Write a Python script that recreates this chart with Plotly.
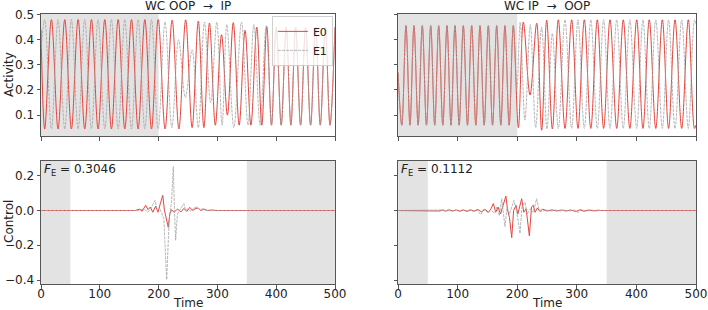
import plotly.graph_objects as go

# --- activity traces: extremum times / values ---
left_e0_t = [0, 6.35, 17.7, 29, 40.4, 51.7, 63.1, 74.4, 85.8, 97.1, 108.5, 119.8, 131.2, 142.5,
             153.9, 165.2, 176.6, 187.9, 199.3, 211, 223, 234.5, 246, 257, 267.5, 277, 286.5,
             296.5, 307, 317, 327, 337, 347, 357, 367, 375.5, 384, 392, 400, 408.5, 417, 425,
             433, 441.5, 450, 458.5, 467, 475, 483.5, 491.5, 500]
left_e0_v = [0.44, 0.045, 0.48, 0.045, 0.48, 0.045, 0.48, 0.045, 0.48, 0.045, 0.48, 0.045, 0.48,
             0.045, 0.48, 0.045, 0.48, 0.045, 0.48, 0.045, 0.478, 0.045, 0.479, 0.05, 0.474, 0.05,
             0.466, 0.06, 0.42, 0.10, 0.468, 0.06, 0.437, 0.06, 0.45, 0.06, 0.452, 0.06, 0.45,
             0.06, 0.45, 0.06, 0.45, 0.06, 0.45, 0.06, 0.45, 0.06, 0.45, 0.06, 0.45]

left_e1_t = [0, 6.3, 17.7, 29, 40.4, 51.7, 63.1, 74.4, 85.8, 97.1, 108.5, 119.8, 131.2, 142.5,
             153.9, 165.2, 176.6, 187.9, 199.3, 211, 222.5, 234, 245.5, 257, 267.5, 278, 288.5,
             299, 308, 316, 328, 341, 352, 362, 372.5, 383, 392, 400, 408.5, 417, 425, 433,
             441.5, 450, 458.5, 467, 475, 483.5, 491.5, 500]
left_e1_v = [0.36, 0.48, 0.045, 0.48, 0.045, 0.48, 0.045, 0.48, 0.045, 0.48, 0.045, 0.48, 0.045,
             0.48, 0.045, 0.48, 0.045, 0.48, 0.045, 0.47, 0.05, 0.40, 0.17, 0.36, 0.05, 0.47,
             0.15, 0.47, 0.06, 0.46, 0.05, 0.47, 0.06, 0.46, 0.06, 0.455, 0.06, 0.45, 0.06, 0.45,
             0.06, 0.45, 0.06, 0.45, 0.06, 0.45, 0.06, 0.45, 0.06, 0.45]

right_ip_t = [0, 6.4, 13.4, 20.1, 26.8, 33.8, 40.8, 47.8, 54.9, 61.6, 68.3, 75.2, 82.2, 88.9,
              95.6, 102.6, 109.6, 116.6, 123.6, 130.6, 137.6, 144.6, 151.6, 158.6, 165.6, 172.5,
              179.5, 186.5, 193.5]
right_ip_v = [0.27, 0.06, 0.456, 0.06, 0.456, 0.06, 0.456, 0.06, 0.456, 0.06, 0.456, 0.06, 0.456,
              0.06, 0.456, 0.06, 0.456, 0.06, 0.456, 0.06, 0.456, 0.06, 0.456, 0.06, 0.456, 0.06,
              0.456, 0.06, 0.456]

right_e0_tail_t = [202, 210.3, 221.5, 232.7, 241, 249.5, 259, 269, 280.2, 291.4, 302, 312.6, 323.5,
                   334.4, 345, 355.7, 367, 378, 389, 400.5, 411, 421.6, 432.5, 443.5, 454, 464.8,
                   476, 487.1, 497.5, 500]
right_e0_tail_v = [0.05, 0.47, 0.18, 0.465, 0.04, 0.478, 0.045, 0.479, 0.047, 0.479, 0.047, 0.479,
                   0.047, 0.479, 0.047, 0.479, 0.047, 0.479, 0.047, 0.479, 0.047, 0.479, 0.047,
                   0.479, 0.047, 0.479, 0.047, 0.479, 0.047, 0.06]

right_e1_tail_t = [199.5, 205, 213, 222, 231, 241, 250, 259, 269, 280.2, 291.4, 302, 312.6, 323.5,
                   334.4, 345, 355.7, 367, 378, 389, 400.5, 411, 421.6, 432.5, 443.5, 454, 464.8,
                   476, 487.1, 497.5, 500]
right_e1_tail_v = [0.2, 0.47, 0.08, 0.46, 0.05, 0.45, 0.045, 0.425, 0.047, 0.479, 0.047, 0.479,
                   0.047, 0.479, 0.047, 0.479, 0.047, 0.479, 0.047, 0.479, 0.047, 0.479, 0.047,
                   0.479, 0.047, 0.479, 0.047, 0.479, 0.047, 0.479, 0.46]

# --- control signals ---
ctrl_left_e0_t = [0, 160, 168, 172, 178, 182, 186, 190, 195, 199, 203, 207, 210, 213, 216.5, 219,
                  222, 226, 232, 238, 243, 248, 253, 258, 262, 267, 272, 277, 283, 290, 300, 500]
ctrl_left_e0_v = [0, 0, 0.008, -0.004, 0.03, 0.005, 0.02, -0.01, 0.025, -0.01, 0.04, 0.087, 0.0,
                  -0.05, -0.097, -0.02, 0.005, -0.01, 0.008, -0.008, 0.012, -0.005, 0.018, 0.0,
                  0.01, 0.015, 0.0, 0.008, 0.0, 0.003, 0, 0]

ctrl_left_e1_t = [0, 165, 175, 182, 188, 194, 198, 202, 206, 209, 213.7, 218, 222, 225, 227, 229,
                  232, 236, 240, 243, 246, 250, 255, 260, 265, 270, 275, 282, 290, 500]
ctrl_left_e1_v = [0, 0, 0.01, -0.01, 0.02, 0.058, 0.0, 0.01, -0.02, -0.05, -0.398, -0.05, 0.05,
                  0.253, 0.0, -0.171, -0.02, 0.0, 0.02, 0.04, 0.0, 0.01, -0.005, 0.015, 0.02,
                  0.005, 0.01, 0.0, 0.0, 0]

ctrl_right_e0_t = [0, 65, 70, 75, 80, 86, 92, 98, 104, 110, 116, 122, 128, 134, 140, 146, 152, 156,
                   160, 164, 168, 172, 176, 181, 184, 187, 190.8, 194, 198, 201, 204, 207.5, 211,
                   215, 220.4, 224, 227, 230, 234, 238, 243, 250, 258, 266, 274, 282, 290, 298,
                   305, 312, 320, 328, 336, 340, 500]
ctrl_right_e0_v = [0, 0, -0.003, 0.004, -0.004, 0.004, -0.003, 0.003, -0.004, 0.003, -0.005, 0.004,
                   -0.004, 0.006, -0.008, 0.006, -0.01, 0.01, 0.04, -0.01, 0.02, -0.02, 0.03,
                   0.083, 0.0, -0.04, -0.156, 0.0, 0.03, -0.02, 0.02, 0.068, -0.01, 0.01, -0.146,
                   0.02, 0.03, -0.01, 0.015, -0.005, 0.008, -0.003, 0.004, -0.003, 0.003, -0.003,
                   0.003, -0.006, 0.004, -0.004, 0.003, -0.002, 0.002, 0, 0]

ctrl_right_e1_t = [0, 65, 72, 78, 84, 90, 96, 102, 108, 114, 120, 126, 132, 139, 144, 150, 155,
                   162, 166, 170, 174, 179.5, 183, 187, 191, 194.6, 199, 204.7, 208, 213, 217, 222,
                   227, 232.7, 237, 242, 248, 256, 264, 272, 280, 288, 296, 302, 308, 316, 324,
                   332, 340, 500]
ctrl_right_e1_v = [0, 0, 0.003, -0.003, 0.003, -0.004, 0.003, -0.003, 0.004, -0.004, 0.004, -0.005,
                   0.005, -0.023, 0.008, -0.01, 0.005, -0.015, 0.02, -0.03, 0.068, -0.093, 0.02,
                   -0.02, 0.02, 0.058, 0.0, -0.132, 0.02, 0.048, -0.02, 0.01, -0.01, 0.068, 0.0,
                   -0.005, 0.004, -0.004, 0.003, -0.003, 0.003, -0.003, 0.004, -0.012, 0.006,
                   -0.004, 0.003, -0.002, 0, 0]

titles = ["WC OOP  →  IP", "WC IP  →  OOP"]
costs = ["0.3046", "0.1112"]

RED = "#e5443c"
GRAY = "#a3a3a3"
SHADE = "#e3e3e3"
FONT = "DejaVu Sans"
FS = 12

W, H = 708, 310
fig = go.Figure()

x_dom = [[41 / W, 335 / W], [398 / W, 696 / W]]
y_top = [1 - 136 / H, 1 - 14 / H]
y_bot = [1 - 284 / H, 1 - 161 / H]

# axes: 1 top-left, 2 top-right, 3 bottom-left, 4 bottom-right
panels = [
    ("x", "y", left_e0_t, left_e0_v, left_e1_t, left_e1_v, "spline"),
    ("x2", "y2", right_ip_t + right_e0_tail_t, right_ip_v + right_e0_tail_v,
     right_ip_t + right_e1_tail_t, right_ip_v + right_e1_tail_v, "spline"),
    ("x3", "y3", ctrl_left_e0_t, ctrl_left_e0_v, ctrl_left_e1_t, ctrl_left_e1_v, "linear"),
    ("x4", "y4", ctrl_right_e0_t, ctrl_right_e0_v, ctrl_right_e1_t, ctrl_right_e1_v, "linear"),
]

for i, (xa, ya, t0, v0, t1, v1, shape) in enumerate(panels):
    fig.add_trace(go.Scatter(x=t0, y=v0, mode="lines", xaxis=xa, yaxis=ya, name="E0",
                             line=dict(color=RED, width=1, shape=shape), showlegend=(i == 0)))
    fig.add_trace(go.Scatter(x=t1, y=v1, mode="lines", xaxis=xa, yaxis=ya, name="E1",
                             line=dict(color=GRAY, width=0.8, shape=shape, dash="3px,1px"),
                             showlegend=(i == 0)))

# shaded windows
shade_spans = [("x", "y", 0, 200), ("x2", "y2", 0, 200),
               ("x3", "y3", 0, 50), ("x3", "y3", 350, 500),
               ("x4", "y4", 0, 50), ("x4", "y4", 350, 500)]
for xa, ya, a, b in shade_spans:
    fig.add_shape(type="rect", xref=xa, yref=ya + " domain", x0=a, x1=b, y0=0, y1=1,
                  fillcolor=SHADE, line_width=0, layer="below")

axis_common = dict(showline=True, mirror=True, linecolor="#555", linewidth=1, ticks="outside",
                   ticklen=3.5, tickwidth=1, tickcolor="#555", showgrid=False, zeroline=False,
                   automargin=False, tickfont=dict(family=FONT, size=FS, color="#222"))
ticks_x = [0, 100, 200, 300, 400, 500]

fig.update_layout(
    width=W, height=H,
    margin=dict(l=0, r=0, t=0, b=0),
    paper_bgcolor="white", plot_bgcolor="white",
    font=dict(family=FONT, size=FS, color="#222"),
    xaxis=dict(domain=x_dom[0], anchor="y", range=[0, 500], tickvals=ticks_x,
               showticklabels=False, **axis_common),
    xaxis2=dict(domain=x_dom[1], anchor="y2", range=[0, 500], tickvals=ticks_x,
                showticklabels=False, **axis_common),
    xaxis3=dict(domain=x_dom[0], anchor="y3", range=[0, 500], tickvals=ticks_x,
                ticklabelstandoff=-5, **axis_common),
    xaxis4=dict(domain=x_dom[1], anchor="y4", range=[0, 500], tickvals=ticks_x,
                ticklabelstandoff=-5, **axis_common),
    yaxis=dict(domain=y_top, anchor="x", range=[0.017, 0.502],
               tickvals=[0.1, 0.2, 0.3, 0.4, 0.5], ticktext=["0.1", "0.2", "0.3", "0.4", "0.5"],
               **axis_common),
    yaxis2=dict(domain=y_top, anchor="x2", range=[0.017, 0.502],
                tickvals=[0.1, 0.2, 0.3, 0.4, 0.5], showticklabels=False, **axis_common),
    yaxis3=dict(domain=y_bot, anchor="x3", range=[-0.423, 0.285],
                tickvals=[-0.4, -0.2, 0.0, 0.2], ticktext=["−0.4", "−0.2", "0.0", "0.2"],
                **axis_common),
    yaxis4=dict(domain=y_bot, anchor="x4", range=[-0.423, 0.285],
                tickvals=[-0.4, -0.2, 0.0, 0.2], showticklabels=False, **axis_common),
    legend=dict(x=x_dom[0][1] - 0.003, y=y_top[1] - 0.006, xanchor="right", yanchor="top",
                bgcolor="rgba(255,255,255,0.8)", bordercolor="#d0d0d0", borderwidth=1,
                font=dict(family=FONT, size=11), tracegroupgap=0, itemwidth=30),
)

def note(text, x, y, xanchor="center", yanchor="middle", angle=0):
    fig.add_annotation(text=text, xref="paper", yref="paper", x=x, y=y, xanchor=xanchor,
                       yanchor=yanchor, textangle=angle, showarrow=False,
                       font=dict(family=FONT, size=FS, color="#222"))

for dom, title in zip(x_dom, titles):
    note(title, (dom[0] + dom[1]) / 2, 1 - 6 / H)
    note("Time", (dom[0] + dom[1]) / 2, 1 - 303 / H)

note("Activity", 9 / W, 1 - 75 / H, angle=-90)
note("Control", 9 / W, 1 - 222 / H, angle=-90)

for dom, cost in zip(x_dom, costs):
    note("<i>F</i><sub>E</sub> = " + cost, dom[0] + 1 / W, 1 - 170 / H, xanchor="left")

# the page body has a default 8px margin; drop it so the figure sits at the window origin
fig.write_html("out.html", config={"displayModeBar": False},
               post_script="document.body.style.margin='0';")
